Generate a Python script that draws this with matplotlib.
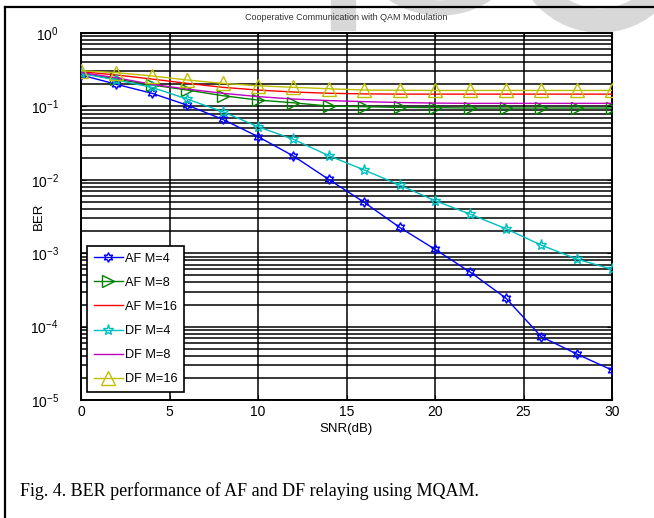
import numpy as np
import matplotlib
matplotlib.use("Agg")
import matplotlib.pyplot as plt
from matplotlib.patches import Wedge, Rectangle
from matplotlib.transforms import Affine2D

# BER vs SNR, AF and DF relaying with M-QAM
snr = [0, 2, 4, 6, 8, 10, 12, 14, 16, 18, 20, 22, 24, 26, 28, 30]

af_m4 = [0.268, 0.20, 0.151, 0.104, 0.0667, 0.0387, 0.0211, 0.0101, 0.00493,
         0.00225, 0.00113, 0.00055, 0.000245, 7.3e-5, 4.24e-5, 2.56e-5]
af_m8 = [0.282, 0.235, 0.196, 0.167, 0.140, 0.122, 0.112, 0.101, 0.099,
         0.097, 0.096, 0.095, 0.095, 0.095, 0.095, 0.095]
af_m16 = [0.297, 0.268, 0.236, 0.206, 0.182, 0.167, 0.157, 0.151, 0.148,
          0.147, 0.147, 0.147, 0.147, 0.147, 0.147, 0.147]
df_m4 = [0.282, 0.229, 0.182, 0.126, 0.0847, 0.0529, 0.0356, 0.0213, 0.0136,
         0.00849, 0.0052, 0.00339, 0.00216, 0.00129, 0.000834, 0.000603]
df_m8 = [0.290, 0.245, 0.200, 0.172, 0.151, 0.136, 0.126, 0.120, 0.116,
         0.113, 0.111, 0.110, 0.110, 0.110, 0.110, 0.110]
df_m16 = [0.306, 0.288, 0.260, 0.229, 0.206, 0.191, 0.182, 0.174, 0.167,
          0.166, 0.165, 0.165, 0.165, 0.165, 0.165, 0.165]

labels = ["AF M=4", "AF M=8", "AF M=16", "DF M=4", "DF M=8", "DF M=16"]
series = [af_m4, af_m8, af_m16, df_m4, df_m8, df_m16]
colors = ["#0000ff", "#008000", "#ff0000", "#00bfbf", "#bf00bf", "#bfbf00"]
markers = [(6, 1, 0), ">", None, "*", None, "^"]
msizes = [7, 9, 0, 8, 0, 10]

plt.rcParams["font.family"] = ["Liberation Sans", "DejaVu Sans"]

fig = plt.figure(figsize=(6.54, 5.18), dpi=100)
W, H = 654, 518
pix = Affine2D().scale(1 / W, 1 / H) + fig.transFigure

# faint watermark shapes behind the top of the page
grey = "#d8d8d8"
fig.add_artist(Rectangle((331, H - 30), 24, 30, transform=pix, color=grey, zorder=0))
fig.add_artist(Wedge((440, H + 76), 91, 200, 340, width=14, transform=pix, color=grey, zorder=0))
fig.add_artist(Wedge((600, H + 54), 86, 180, 360, width=23, transform=pix, color=grey, zorder=0))

# page frame
fig.add_artist(plt.Line2D([5 / W, 1], [1 - 7 / H, 1 - 7 / H], color="black", lw=1.6, zorder=1))
fig.add_artist(plt.Line2D([5 / W, 5 / W], [0, 1 - 7 / H], color="black", lw=1.6, zorder=1))

ax = fig.add_axes([81 / W, 1 - 400 / H, (612 - 81) / W, (400 - 33) / H])
ax.set_yscale("log")
ax.set_xlim(0, 30)
ax.set_ylim(1e-5, 1)

for y, lab, c, m, ms in zip(series, labels, colors, markers, msizes):
    ax.plot(snr, y, color=c, lw=1.0, marker=m, markersize=ms,
            markerfacecolor="none", markeredgecolor=c, markeredgewidth=1.0,
            label=lab, zorder=3)

ax.grid(True, which="major", color="black", lw=1.1)
ax.grid(True, which="minor", axis="y", color="black", lw=1.1)
ax.set_xticks([0, 5, 10, 15, 20, 25, 30])
ax.tick_params(which="both", direction="in", labelsize=10, top=True, right=True)
ax.tick_params(axis="y", which="major", pad=16)
ax.tick_params(which="minor", length=0)
for s in ax.spines.values():
    s.set_linewidth(1.4)

ax.set_xlabel("SNR(dB)", fontsize=9.5, labelpad=3)
ax.set_ylabel("BER", fontsize=9.5)
ax.yaxis.set_label_coords(-0.068, 0.5)
ax.set_title("Cooperative Communication with QAM Modulation", fontsize=6.5,
             color="#333333", pad=9)

leg = ax.legend(loc="lower left", bbox_to_anchor=(0.0, 0.005), fontsize=9.2,
                frameon=True, fancybox=False, edgecolor="black",
                handlelength=2.3, labelspacing=0.95, borderpad=0.5,
                handletextpad=0.15, borderaxespad=0.5)
leg.get_frame().set_linewidth(1.2)
leg.get_frame().set_alpha(1)

fig.text(20 / W, 1 - 491 / H, "Fig. 4. BER performance of AF and DF relaying using MQAM.",
         fontsize=13, family="Liberation Serif", va="center")

fig.savefig("out.png", dpi=100)
